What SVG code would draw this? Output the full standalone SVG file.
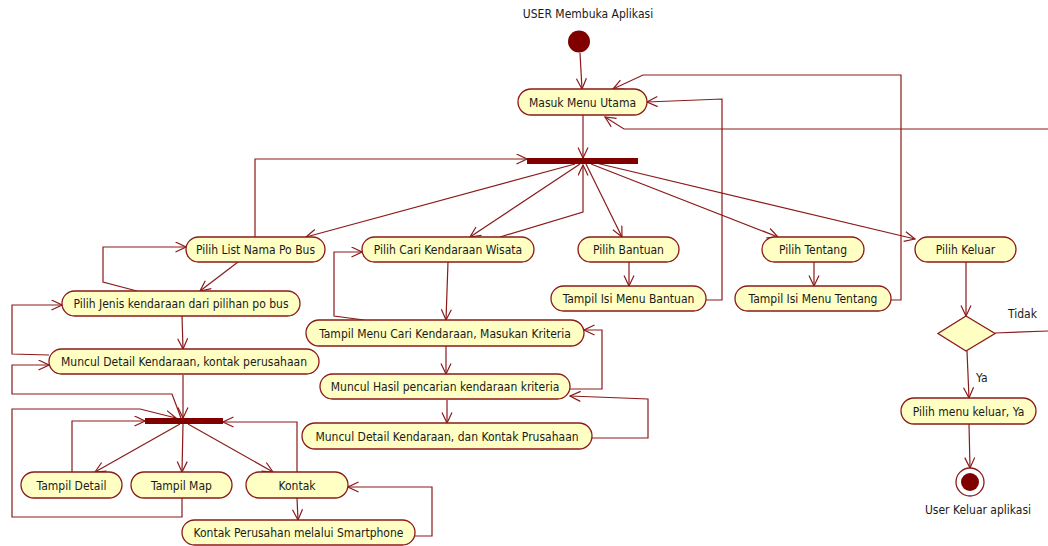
<svg xmlns="http://www.w3.org/2000/svg" width="1048" height="546" viewBox="0 0 1048 546">
<defs>
<marker id="arr" markerUnits="userSpaceOnUse" markerWidth="12" markerHeight="12" refX="11" refY="5.5" orient="auto">
<path d="M0.5,0.5 L11,5.5 L0.5,10.5" fill="none" stroke="#8b1a1a" stroke-width="1.2"/>
</marker>
<style>
.n rect{fill:#ffffc4;stroke:#8b1a1a;stroke-width:1.3}
.n text,.lbl{font-family:"DejaVu Sans Condensed","DejaVu Sans",sans-serif;font-size:12px;fill:#1a1a1a}
.n text{text-anchor:middle}
#edges path{fill:none;stroke:#8b1a1a;stroke-width:1.2;marker-end:url(#arr)}
#edges path.na{marker-end:none}
.bar{fill:#800000}
</style>
</defs>
<rect width="1048" height="546" fill="#ffffff"/>
<g id="edges">
<path d="M580,53 L582,89"/>
<path d="M583,115 L583,158"/>
<path d="M255,237 L255,159 L527,159"/>
<path d="M575,164 L306,237"/>
<path d="M580,164 L470,237"/>
<path d="M500,237 L583,212 L583,165"/>
<path d="M586,164 L622,237"/>
<path d="M591,164 L778,237"/>
<path d="M596,163 L915,239"/>
<path d="M629,262 L629,286"/>
<path d="M814,262 L814,286"/>
<path d="M238,262 L200,291"/>
<path d="M137,291 L103,282 L103,247 L186,247"/>
<path d="M182,316 L183,349"/>
<path d="M49,355 L12,354 L12,305 L62,305"/>
<path d="M183,375 L183,418"/>
<path d="M181,418 L172,394 L12,394 L12,365 L49,365"/>
<path d="M182,498 L182,517 L12,517 L12,409 L140,409 L176,418"/>
<path d="M180,424 L95,472"/>
<path d="M72,472 L72,421 L145,421"/>
<path d="M183,424 L182,472"/>
<path d="M188,424 L273,472"/>
<path d="M297,472 L297,422 L223,422"/>
<path d="M297,498 L298,520"/>
<path d="M415,536 L432,536 L432,487 L348,487"/>
<path d="M448,262 L446,320"/>
<path d="M364,320 L334,316 L334,252 L362,252"/>
<path d="M446,346 L446,374"/>
<path d="M570,389 L602,389 L602,330 L584,330"/>
<path d="M447,400 L447,423"/>
<path d="M592,438 L648,438 L648,399 L570,396"/>
<path d="M706,300 L722,300 L722,99 L647,102"/>
<path d="M891,300 L901,300 L901,75 L643,75 L613,89"/>
<path class="na" d="M995,333 L1048,331"/>
<path d="M1048,129 L624,129 L605,117"/>
<path d="M966,262 L966,316"/>
<path d="M967,351 L969,398"/>
<path d="M969,424 L970,468"/>
</g>
<g id="start"><circle cx="579" cy="41.5" r="11" fill="#800000"/></g>
<g id="fork1"><rect class="bar" x="527" y="158" width="111" height="6"/></g>
<g id="fork2"><rect class="bar" x="145" y="418" width="78" height="6"/></g>
<g id="decision"><polygon points="966,316 995,333.5 966,351 938,333.5" fill="#ffffc4" stroke="#8b1a1a" stroke-width="1.3"/></g>
<g id="end"><circle cx="970" cy="482" r="14" fill="#ffffff" stroke="#8b1a1a" stroke-width="1.3"/><circle cx="970" cy="482" r="9" fill="#800000"/></g>
<g id="masuk" class="n"><rect x="518" y="89" width="129" height="26" rx="13"/><text x="582.5" y="106.5">Masuk Menu Utama</text></g>
<g id="list" class="n"><rect x="186" y="237" width="139" height="25" rx="12.5"/><text x="255.5" y="254">Pilih List Nama Po Bus</text></g>
<g id="cari" class="n"><rect x="362" y="237" width="172" height="25" rx="12.5"/><text x="448" y="254">Pilih Cari Kendaraan Wisata</text></g>
<g id="bantuan" class="n"><rect x="578" y="237" width="101" height="25" rx="12.5"/><text x="628.5" y="254">Pilih Bantuan</text></g>
<g id="tentang" class="n"><rect x="762" y="237" width="102" height="25" rx="12.5"/><text x="813" y="254">Pilih Tentang</text></g>
<g id="keluar" class="n"><rect x="915" y="237" width="101" height="25" rx="12.5"/><text x="965.5" y="254">Pilih Keluar</text></g>
<g id="isiBantuan" class="n"><rect x="551" y="286" width="155" height="25" rx="12.5"/><text x="628.5" y="303">Tampil Isi Menu Bantuan</text></g>
<g id="isiTentang" class="n"><rect x="735" y="286" width="156" height="25" rx="12.5"/><text x="813" y="303">Tampil Isi Menu Tentang</text></g>
<g id="jenis" class="n"><rect x="62" y="291" width="238" height="25" rx="12.5"/><text x="181" y="308">Pilih Jenis kendaraan dari pilihan po bus</text></g>
<g id="menuCari" class="n"><rect x="306" y="320" width="278" height="26" rx="13"/><text x="445" y="337.5">Tampil Menu Cari Kendaraan, Masukan Kriteria</text></g>
<g id="detail1" class="n"><rect x="49" y="349" width="270" height="25" rx="12.5"/><text x="184" y="366">Muncul Detail Kendaraan, kontak perusahaan</text></g>
<g id="hasil" class="n"><rect x="320" y="374" width="250" height="25" rx="12.5"/><text x="445" y="391">Muncul Hasil pencarian kendaraan kriteria</text></g>
<g id="detail2" class="n"><rect x="302" y="423" width="290" height="26" rx="13"/><text x="447" y="440.5">Muncul Detail Kendaraan, dan Kontak Prusahaan</text></g>
<g id="tDetail" class="n"><rect x="21" y="472" width="101" height="26" rx="13"/><text x="71.5" y="489.5">Tampil Detail</text></g>
<g id="tMap" class="n"><rect x="131" y="472" width="101" height="26" rx="13"/><text x="181.5" y="489.5">Tampil Map</text></g>
<g id="kontak" class="n"><rect x="246" y="472" width="102" height="26" rx="13"/><text x="297" y="489.5">Kontak</text></g>
<g id="kontakHP" class="n"><rect x="182" y="520" width="233" height="25" rx="12.5"/><text x="298.5" y="537">Kontak Perusahan melalui Smartphone</text></g>
<g id="keluarYa" class="n"><rect x="901" y="398" width="135" height="26" rx="13"/><text x="968.5" y="415.5">Pilih menu keluar, Ya</text></g>
<g id="labels">
<text class="lbl" x="588" y="18" text-anchor="middle">USER Membuka Aplikasi</text>
<text class="lbl" x="1008" y="318">Tidak</text>
<text class="lbl" x="976" y="382">Ya</text>
<text class="lbl" x="978" y="514" text-anchor="middle">User Keluar aplikasi</text>
</g>
</svg>
